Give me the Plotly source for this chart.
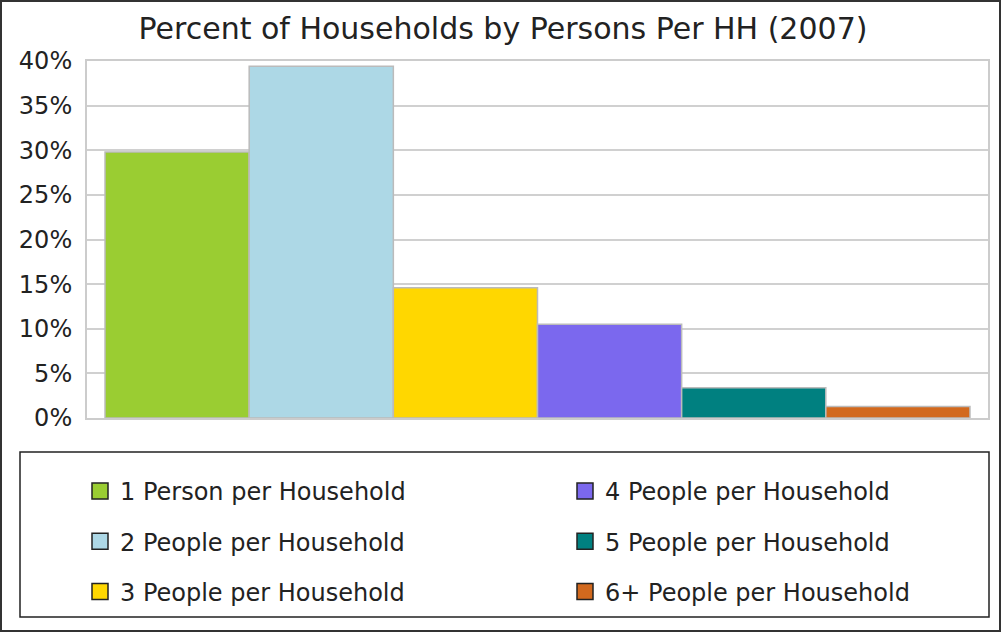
import plotly.graph_objects as go

categories = ["2007"]
series_names = [
    "1 Person per Household",
    "2 People per Household",
    "3 People per Household",
    "4 People per Household",
    "5 People per Household",
    "6+ People per Household",
]
series_values = [29.8, 39.4, 14.6, 10.5, 3.4, 1.3]
colors = ["#9ACD32", "#ADD8E6", "#FFD700", "#7B68EE", "#008080", "#D2691E"]
tick_vals = [0, 5, 10, 15, 20, 25, 30, 35, 40]
tick_text = ["0%", "5%", "10%", "15%", "20%", "25%", "30%", "35%", "40%"]

FONT = "DejaVu Sans"
W, H = 1002, 633
L, R, T, B = 87, 988, 61, 418  # plot area in px
pw, ph = R - L, B - T


def px_x(x):
    return (x - L) / pw


def px_y(y):
    return (B - y) / ph


fig = go.Figure()
for i, (name, val, col) in enumerate(zip(series_names, series_values, colors)):
    fig.add_trace(go.Bar(
        x=categories, y=[val], name=name, showlegend=False,
        marker=dict(color=col, line=dict(color="#BBBBBB", width=1.5)),
        hoverinfo="name+y",
    ))
for i, (name, col) in enumerate(zip(series_names, colors)):
    # legend-only entry (square swatch with dark outline)
    fig.add_trace(go.Scatter(
        x=[None], y=[None], name=name, mode="markers", showlegend=True,
        legend="legend" if i < 3 else "legend2",
        legendgroup=f"g{i}",
        marker=dict(symbol="square", size=16, color=col,
                    line=dict(color="#222222", width=1.5)),
    ))

legend_common = dict(
    font=dict(family=FONT, size=24, color="#222222"),
    bgcolor="rgba(0,0,0,0)", borderwidth=0,
    orientation="v", tracegroupgap=16, traceorder="grouped",
    itemsizing="trace",
    xanchor="left", yanchor="top", itemclick=False, itemdoubleclick=False,
)

fig.update_layout(
    width=W, height=H,
    margin=dict(l=L, r=W - R, t=T, b=H - B),
    paper_bgcolor="white", plot_bgcolor="white",
    title=dict(text="Percent of Households by Persons Per HH (2007)",
               x=0.502, xanchor="center", y=1 - 28 / H, yanchor="middle",
               font=dict(family=FONT, size=30, color="#222222")),
    barmode="group", bargap=0.04, bargroupgap=0,
    xaxis=dict(showticklabels=False, showgrid=False, zeroline=False,
               showline=True, linecolor="#CCCCCC", linewidth=2, mirror=True,
               fixedrange=True),
    yaxis=dict(range=[0, 40], tickvals=tick_vals, ticktext=tick_text,
               showgrid=True, gridcolor="#D0D0D0", gridwidth=2,
               zeroline=False, showline=True, linecolor="#CCCCCC", linewidth=2,
               mirror=True, ticks="", ticklabelstandoff=8,
               tickfont=dict(family=FONT, size=24, color="#222222"),
               fixedrange=True),
    legend=dict(x=px_x(80), y=px_y(469), **legend_common),
    legend2=dict(x=px_x(565), y=px_y(469), **legend_common),
    shapes=[
        dict(type="rect", xref="paper", yref="paper",
             x0=px_x(20), x1=px_x(989), y0=px_y(617), y1=px_y(452),
             line=dict(color="#222222", width=1.5), fillcolor="rgba(0,0,0,0)"),
        dict(type="rect", xref="paper", yref="paper",
             x0=px_x(1), x1=px_x(1000), y0=px_y(631), y1=px_y(1),
             line=dict(color="#333333", width=2), fillcolor="rgba(0,0,0,0)"),
    ],
)

fig.write_html("out.html", config={"displayModeBar": False},
               post_script="document.body.style.margin='0';")
